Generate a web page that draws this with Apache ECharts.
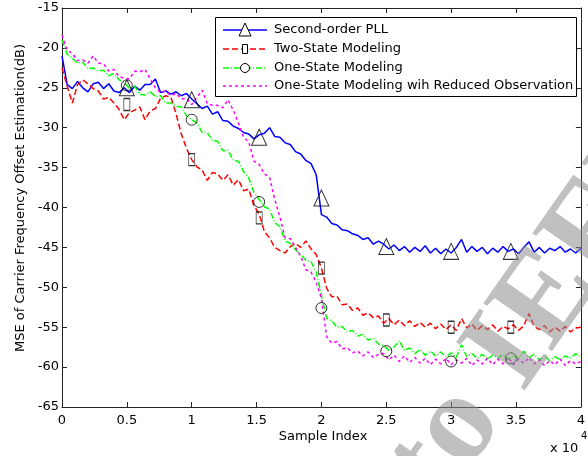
<!DOCTYPE html>
<html>
<head>
<meta charset="utf-8">
<script src="https://cdn.jsdelivr.net/npm/echarts@6/dist/echarts.min.js"></script>
<style>
  html, body { margin: 0; padding: 0; background: #fff; }
  #chart { width: 588px; height: 456px; }
</style>
</head>
<body>
<div id="chart"></div>
<script>
// sample index in units of 1e4, one value every 0.04
const step = 0.04
const xTicks = [0, 0.5, 1, 1.5, 2, 2.5, 3, 3.5, 4]
const yTicks = [-15, -20, -25, -30, -35, -40, -45, -50, -55, -60, -65]

const seriesNames = [
  "Second-order PLL",
  "Two-State Modeling",
  "One-State Modeling",
  "One-State Modeling wih Reduced Observation"
]

// MSE (dB)
const pllMse = [
  -21.0, -24.6, -25.1, -24.2, -25.0, -25.5, -24.5, -24.3, -25.1, -24.5,
  -25.4, -25.6, -25.0, -25.6, -24.8, -25.3, -24.6, -24.6, -23.9, -25.6,
  -25.4, -25.8, -25.5, -26.0, -25.7, -26.4, -27.0, -27.6, -27.3, -28.3,
  -28.0, -29.1, -29.2, -29.8, -30.1, -30.6, -30.8, -31.4, -30.9, -30.7,
  -30.0, -31.1, -31.2, -31.9, -32.1, -33.0, -33.3, -34.1, -34.5, -35.9,
  -40.9, -41.2, -42.0, -42.2, -42.8, -42.9, -43.3, -43.5, -44.0, -43.8,
  -44.6, -44.2, -44.6, -45.2, -44.7, -45.4, -44.9, -45.6, -45.0, -45.5,
  -44.8, -45.7, -45.1, -45.8, -45.2, -45.7, -45.0, -44.0, -45.6, -44.9,
  -45.5, -45.0, -45.8, -45.1, -45.6, -44.9, -45.5, -45.2, -45.8, -45.0,
  -44.3, -45.6, -45.0, -45.7, -45.1, -45.4, -44.9, -45.6, -45.2, -45.7,
  -45.1
]
const twoStateMse = [
  -22.5, -24.8, -26.9, -24.6, -24.0, -24.5, -25.1, -25.4, -26.4, -26.2,
  -26.9, -27.7, -29.0, -28.1, -27.8, -27.4, -29.0, -27.9, -27.6, -26.3,
  -26.0, -26.2, -28.3, -30.8, -32.6, -34.0, -34.9, -35.3, -36.6, -35.6,
  -35.8, -36.6, -35.9, -37.2, -36.5, -37.9, -37.7, -39.8, -40.8, -43.0,
  -43.8, -45.0, -45.4, -45.7, -44.9, -44.5, -45.0, -44.2, -45.2, -45.9,
  -47.6, -50.1, -51.2, -51.1, -52.2, -52.1, -52.9, -52.6, -53.5, -53.2,
  -53.8, -53.6, -54.5, -53.9, -54.7, -54.1, -54.8, -54.2, -54.9, -54.4,
  -55.0, -54.5, -55.2, -54.6, -55.3, -54.7, -55.4, -53.9, -55.1, -54.6,
  -55.4, -54.8, -55.3, -54.7, -55.5, -54.9, -55.2, -54.7, -55.4, -54.8,
  -53.3, -54.9, -55.3, -54.8, -55.6, -55.0, -55.5, -54.9, -55.6, -55.1,
  -55.0
]
const oneStateMse = [
  -19.0, -20.8, -21.3, -21.9, -21.8, -22.6, -22.5, -22.9, -22.8, -23.5,
  -23.2, -24.0, -24.3, -25.1, -24.8, -25.8, -25.9, -25.5, -26.1, -26.0,
  -26.9, -26.9, -27.3, -27.4, -28.5, -29.0, -29.4, -30.6, -30.6, -31.6,
  -31.7, -32.9, -32.8, -34.1, -34.2, -35.5, -36.3, -38.1, -39.0, -39.9,
  -40.2, -41.9, -42.4, -44.2, -44.5, -45.3, -45.9, -46.6, -46.8, -48.1,
  -51.0, -53.9, -54.2, -55.0, -54.9, -55.6, -55.4, -56.1, -55.9, -56.6,
  -56.4, -57.1, -57.3, -57.9, -57.5, -56.7, -57.9, -57.6, -58.3, -57.8,
  -58.5, -58.0, -58.6, -58.1, -58.7, -58.2, -58.8, -57.2, -58.7, -58.3,
  -58.9, -58.4, -59.0, -58.5, -58.9, -58.4, -59.0, -58.5, -58.9, -58.0,
  -58.8, -58.4, -59.1, -58.6, -59.2, -58.7, -59.1, -58.6, -58.9, -58.3,
  -58.8
]
const reducedObsMse = [
  -18.4, -20.3, -20.7, -21.6, -21.5, -21.9, -21.0, -21.9, -22.0, -22.9,
  -22.7, -23.6, -23.8, -23.9, -22.9, -23.0, -22.7, -23.9, -25.0, -25.6,
  -25.4, -26.0, -25.7, -26.4, -26.3, -27.1, -26.2, -25.3, -27.0, -27.2,
  -27.2, -27.5, -26.5, -27.8, -29.4, -31.2, -31.8, -34.2, -34.6, -35.8,
  -36.2, -39.0, -41.2, -43.8, -43.9, -45.0, -46.1, -47.8, -48.1, -49.4,
  -51.4, -56.2, -57.0, -56.8, -57.7, -57.6, -58.2, -58.0, -58.6, -58.1,
  -58.8, -58.4, -58.3, -59.1, -58.5, -59.3, -58.6, -59.4, -58.8, -59.5,
  -58.9, -59.7, -59.0, -59.6, -58.9, -59.7, -59.1, -59.5, -58.9, -59.8,
  -59.1, -59.6, -58.9, -59.7, -59.0, -59.6, -58.8, -59.7, -59.0, -59.5,
  -58.8, -59.6, -59.1, -59.8, -59.2, -59.7, -59.0, -59.8, -59.2, -59.6,
  -59.3
]

// black marker positions
const markerX = [0.5, 1.0, 1.52, 2.0, 2.5, 3.0, 3.46]
const pllMarkY = [-25.0, -26.5, -31.2, -38.8, -44.9, -45.5, -45.5]
const twoStateMarkY = [-27.1, -34.0, -41.3, -47.6, -54.1, -55.0, -55.0]
const oneStateMarkY = [-24.7, -29.0, -39.3, -52.6, -58.0, -59.3, -58.9]

const colors = ["#0000ff", "#ff0000", "#00ff00", "#ff00ff"]
const dashes = ["solid", [6, 3], [6, 2, 1, 2], [3, 3]]
const FONT = "DejaVu Sans"

const chart = echarts.init(document.getElementById("chart"))

const toPairs = (ys) => ys.map((y, i) => [+(i * step).toFixed(2), y])
const markPairs = (ys) => ys.map((y, i) => [markerX[i], y])

const lineSeries = [pllMse, twoStateMse, oneStateMse, reducedObsMse].map((ys, k) => ({
  name: seriesNames[k],
  type: "line",
  data: toPairs(ys),
  showSymbol: false,
  symbol: "none",
  animation: false,
  lineStyle: { color: colors[k], width: 1.5, type: dashes[k] },
  z: 2 + k
}))

const markerStyle = { color: "rgba(0,0,0,0)", borderColor: "#000", borderWidth: 1 }
const markerSeries = [
  { data: markPairs(pllMarkY), symbol: "triangle", symbolSize: [15, 16] },
  { data: markPairs(twoStateMarkY), symbol: "rect", symbolSize: [6, 12] },
  { data: markPairs(oneStateMarkY), symbol: "circle", symbolSize: [11, 11] }
].map(s => ({ ...s, type: "scatter", itemStyle: markerStyle, animation: false, z: 10 }))

// legend box drawn by hand (MATLAB style)
const legendRows = [30, 49, 68, 86]
const legendEls = [{
  type: "rect", shape: { x: 215.5, y: 17.5, width: 361, height: 79 },
  style: { fill: "#fff", stroke: "#000", lineWidth: 1 }, z: 100
}]
legendRows.forEach((ry, k) => {
  legendEls.push({
    type: "line", shape: { x1: 223, y1: ry, x2: 267, y2: ry },
    style: { stroke: colors[k], lineWidth: 1.5, lineDash: dashes[k] === "solid" ? null : dashes[k] },
    z: 101
  })
  legendEls.push({
    type: "text", x: 274, y: ry,
    style: { text: seriesNames[k], font: `13px "${FONT}"`, fill: "#000", verticalAlign: "middle" },
    z: 101
  })
})
legendEls.push(
  { type: "polygon", shape: { points: [[245, legendRows[0] - 7], [239, legendRows[0] + 6], [251, legendRows[0] + 6]] },
    style: { fill: "#fff", stroke: "#000", lineWidth: 1 }, z: 102 },
  { type: "rect", shape: { x: 242.5, y: legendRows[1] - 4.5, width: 5, height: 9 },
    style: { fill: "#fff", stroke: "#000", lineWidth: 1 }, z: 102 },
  { type: "circle", shape: { cx: 245, cy: legendRows[2], r: 4.5 },
    style: { fill: "#fff", stroke: "#000", lineWidth: 1 }, z: 102 }
)

const axisCommon = {
  type: "value",
  splitLine: { show: false },
  axisLine: { show: true, onZero: false, lineStyle: { color: "#222", width: 1 } },
  axisTick: { show: true, inside: true, length: 5, lineStyle: { color: "#222" } }
}

const option = {
  backgroundColor: "#fff",
  animation: false,
  grid: { left: 62, right: 1, top: 8, bottom: 49 },
  xAxis: [
    { ...axisCommon, position: "bottom", min: 0, max: 4, interval: 0.5,
      axisLabel: { color: "#000", fontFamily: FONT, fontSize: 13, margin: 7 } },
    { ...axisCommon, position: "top", min: 0, max: 4, interval: 0.5,
      axisLabel: { show: false } }
  ],
  yAxis: [
    { ...axisCommon, position: "left", min: -65, max: -15, interval: 5,
      axisLabel: { color: "#000", fontFamily: FONT, fontSize: 13, margin: 3 } },
    { ...axisCommon, position: "right", min: -65, max: -15, interval: 5,
      axisLabel: { show: false } }
  ],
  series: [...lineSeries, ...markerSeries],
  graphic: [
    ...legendEls,
    { type: "text", x: 323, y: 437,
      style: { text: "Sample Index", font: `13px "${FONT}"`, fill: "#000", align: "center", verticalAlign: "middle" } },
    { type: "text", x: 21, y: 198, rotation: Math.PI / 2,
      style: { text: "MSE of Carrier Frequency Offset Estimation(dB)", font: `13px "${FONT}"`, fill: "#000", align: "center", verticalAlign: "middle" } },
    { type: "text", x: 550, y: 449,
      style: { text: "x 10", font: `13px "${FONT}"`, fill: "#000", verticalAlign: "middle" } },
    { type: "text", x: 581, y: 436,
      style: { text: "4", font: `10px "${FONT}"`, fill: "#000", verticalAlign: "middle" } },
    // grey watermark over the lower right
    { type: "text", x: 468, y: 525, rotation: 55 * Math.PI / 180,
      style: { text: "to IEEE", font: `bold 128px "Liberation Serif"`, fill: "rgba(140,140,140,0.55)", verticalAlign: "bottom" },
      z: 200 }
  ]
}

chart.setOption(option)
</script>
</body>
</html>
